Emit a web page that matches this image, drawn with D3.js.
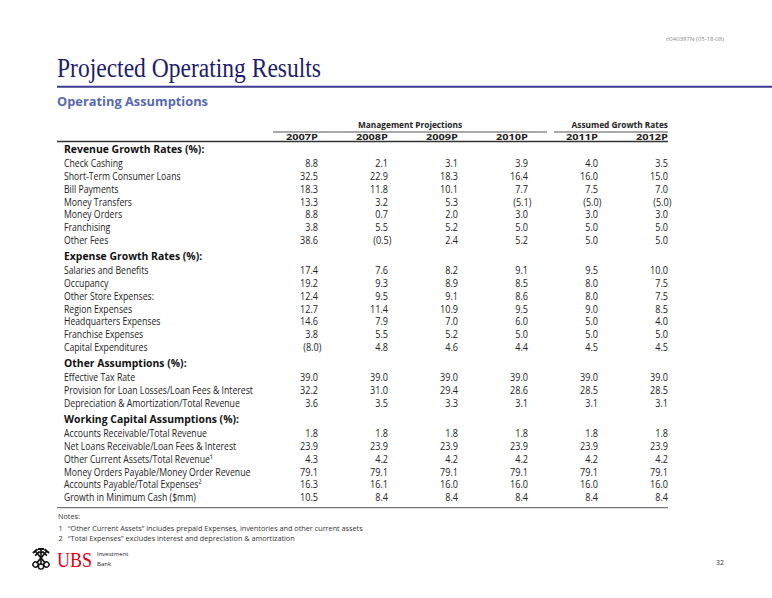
<!DOCTYPE html>
<html><head><meta charset="utf-8">
<script src="https://cdn.jsdelivr.net/npm/d3@7"></script>
<style>body{margin:0;background:#fff}svg{display:block}</style>
</head><body>
<script>
// ---------- DATA ----------
const years = ["2007P","2008P","2009P","2010P","2011P","2012P"];
const groupNames = ["Management Projections","Assumed Growth Rates"];
const groupSpans = [["2007P","2010P"],["2011P","2012P"]];

const sectionTitles = ["Revenue Growth Rates (%):","Expense Growth Rates (%):","Other Assumptions (%):","Working Capital Assumptions (%):"];

const revenueLabels = ["Check Cashing","Short-Term Consumer Loans","Bill Payments","Money Transfers","Money Orders","Franchising","Other Fees"];
const revenueValues = [
  [8.8,2.1,3.1,3.9,4.0,3.5],
  [32.5,22.9,18.3,16.4,16.0,15.0],
  [18.3,11.8,10.1,7.7,7.5,7.0],
  [13.3,3.2,5.3,-5.1,-5.0,-5.0],
  [8.8,0.7,2.0,3.0,3.0,3.0],
  [3.8,5.5,5.2,5.0,5.0,5.0],
  [38.6,-0.5,2.4,5.2,5.0,5.0]
];
const expenseLabels = ["Salaries and Benefits","Occupancy","Other Store Expenses:","Region Expenses","Headquarters Expenses","Franchise Expenses","Capital Expenditures"];
const expenseValues = [
  [17.4,7.6,8.2,9.1,9.5,10.0],
  [19.2,9.3,8.9,8.5,8.0,7.5],
  [12.4,9.5,9.1,8.6,8.0,7.5],
  [12.7,11.4,10.9,9.5,9.0,8.5],
  [14.6,7.9,7.0,6.0,5.0,4.0],
  [3.8,5.5,5.2,5.0,5.0,5.0],
  [-8.0,4.8,4.6,4.4,4.5,4.5]
];
const otherLabels = ["Effective Tax Rate","Provision for Loan Losses/Loan Fees & Interest","Depreciation & Amortization/Total Revenue"];
const otherValues = [
  [39.0,39.0,39.0,39.0,39.0,39.0],
  [32.2,31.0,29.4,28.6,28.5,28.5],
  [3.6,3.5,3.3,3.1,3.1,3.1]
];
const wcLabels = ["Accounts Receivable/Total Revenue","Net Loans Receivable/Loan Fees & Interest","Other Current Assets/Total Revenue\u00B9","Money Orders Payable/Money Order Revenue","Accounts Payable/Total Expenses\u00B2","Growth in Minimum Cash ($mm)"];
const wcValues = [
  [1.8,1.8,1.8,1.8,1.8,1.8],
  [23.9,23.9,23.9,23.9,23.9,23.9],
  [4.3,4.2,4.2,4.2,4.2,4.2],
  [79.1,79.1,79.1,79.1,79.1,79.1],
  [16.3,16.1,16.0,16.0,16.0,16.0],
  [10.5,8.4,8.4,8.4,8.4,8.4]
];
const notes = [
  ["1","\u201COther Current Assets\u201D includes prepaid Expenses, inventories and other current assets"],
  ["2","\u201CTotal Expenses\u201D excludes interest and depreciation & amortization"]
];
const titleText = "Projected Operating Results";
const subtitleText = "Operating Assumptions";
const docCode = "6040397N (05-18-08)";
const pageNumber = "32";

// ---------- LAYOUT ----------
const W = 772, H = 598;
const svg = d3.select("body").append("svg").attr("width", W).attr("height", H);
const SANS = "'Open Sans','Noto Sans',sans-serif";
const SERIF = "'Liberation Serif','DejaVu Serif',serif";
const ink = "#222";

function measure(str, size, weight, family) {
  const t = svg.append("text").attr("font-family", family).attr("font-size", size)
    .attr("font-weight", weight).text(str);
  const w = t.node().getComputedTextLength();
  t.remove();
  return w;
}
const kLabel = 189 / measure("Provision for Loan Losses/Loan Fees & Interest", 10.4, "normal", SANS);
const kBold = 175 / measure("Working Capital Assumptions (%):", 10.6, "bold", SANS);
const kNum = 18 / measure("32.5", 10.4, "normal", SANS);
const kHead = 32 / measure("2007P", 9.0, "bold", SANS);
const kGroup = 104 / measure("Management Projections", 9.2, "bold", SANS);

// title
svg.append("text").attr("x", 57).attr("y", 77).attr("font-family", SERIF).attr("font-size", 28)
  .attr("fill", "#1d1d6a").attr("textLength", 264).attr("lengthAdjust", "spacingAndGlyphs").text(titleText);
svg.append("line").attr("x1", 57).attr("x2", W).attr("y1", 86.8).attr("y2", 86.8)
  .attr("stroke", "#3b3b8e").attr("stroke-width", 2);
svg.append("text").attr("x", 57).attr("y", 106).attr("font-family", SANS).attr("font-size", 12.2)
  .attr("font-weight", "bold").attr("fill", "#5769b0").attr("textLength", 151)
  .attr("lengthAdjust", "spacingAndGlyphs").text(subtitleText);
svg.append("text").attr("x", 724).attr("y", 41).attr("text-anchor", "end").attr("font-family", SANS)
  .attr("font-size", 6).attr("fill", "#8a8a8a").text(docCode);

// columns
const x = d3.scalePoint().domain(years).range([318, 668]);
const labelX = 64, tableLeft = 57, tableRight = x(years[years.length - 1]);

// group headers
const gHead = svg.append("g");
groupNames.forEach((name, i) => {
  const [a, b] = groupSpans[i];
  const x0 = i === 0 ? x(a) - 45 : x(a) - 44;
  const x1 = i === 0 ? x(b) + 19 : x(b);
  gHead.append("line").attr("x1", x0).attr("x2", x1).attr("y1", 132).attr("y2", 132)
    .attr("stroke", "#555").attr("stroke-width", 1.2);
  const cx = i === 0 ? (x0 + x1) / 2 : x1;
  gHead.append("text").attr("transform", `translate(${cx},128) scale(${kGroup},1)`)
    .attr("text-anchor", i === 0 ? "middle" : "end").attr("font-family", SANS).attr("font-size", 9.2)
    .attr("font-weight", "bold").attr("fill", ink).text(name);
});
years.forEach(yr => {
  gHead.append("text").attr("transform", `translate(${x(yr)},139.6) scale(${kHead},1)`)
    .attr("text-anchor", "end").attr("font-family", SANS).attr("font-size", 9.0)
    .attr("font-weight", "bold").attr("fill", ink).text(yr);
});
gHead.append("line").attr("x1", tableLeft).attr("x2", tableRight).attr("y1", 141.6).attr("y2", 141.6)
  .attr("stroke", "#333").attr("stroke-width", 1.5);

// rows
const sections = [
  [revenueLabels, revenueValues],
  [expenseLabels, expenseValues],
  [otherLabels, otherValues],
  [wcLabels, wcValues]
];
const rowStep = 12.75, headToRow = 15, rowToHead = 15.5;
let cy = 148.8;
const items = [];
sections.forEach(([labels, values], si) => {
  if (si > 0) cy += rowToHead;
  items.push({ type: "head", text: sectionTitles[si], y: cy });
  labels.forEach((lab, ri) => {
    cy += ri === 0 ? headToRow : rowStep;
    items.push({ type: "row", text: lab, vals: values[ri], y: cy });
  });
});
const lastY = cy;

const fmt = d3.format(".1f");
const gRows = svg.append("g");
items.forEach(it => {
  if (it.type === "head") {
    gRows.append("text").attr("transform", `translate(${labelX},${it.y + 3.8}) scale(${kBold},1)`)
      .attr("font-family", SANS).attr("font-size", 10.6).attr("font-weight", "bold")
      .attr("fill", "#111").text(it.text);
  } else {
    gRows.append("text").attr("transform", `translate(${labelX},${it.y + 3.6}) scale(${kLabel},1)`)
      .attr("font-family", SANS).attr("font-size", 10.4).attr("fill", ink).text(it.text);
    it.vals.forEach((v, ci) => {
      const neg = v < 0;
      const s = neg ? "(" + fmt(-v) + ")" : fmt(v);
      const xr = x(years[ci]) + (neg ? 3.4 : 0);
      gRows.append("text").attr("transform", `translate(${xr},${it.y + 3.6}) scale(${kNum},1)`)
        .attr("text-anchor", "end").attr("font-family", SANS).attr("font-size", 10.4)
        .attr("fill", ink).text(s);
    });
  }
});
gRows.append("line").attr("x1", tableLeft).attr("x2", tableRight).attr("y1", lastY + 10).attr("y2", lastY + 10)
  .attr("stroke", "#777").attr("stroke-width", 1.2);

// notes
const gNotes = svg.append("g").attr("font-family", SANS).attr("fill", "#333");
const kNote = 295 / measure(notes[0][1], 7.8, "normal", SANS);
gNotes.append("text").attr("transform", `translate(58,${lastY + 21}) scale(${kNote},1)`)
  .attr("font-size", 7.8).text("Notes:");
notes.forEach((n, i) => {
  const yy = lastY + 33 + i * 10.8;
  gNotes.append("text").attr("transform", `translate(58.5,${yy}) scale(${kNote},1)`).attr("font-size", 7.8).text(n[0]);
  gNotes.append("text").attr("transform", `translate(68,${yy}) scale(${kNote},1)`).attr("font-size", 7.8).text(n[1]);
});

// logo
const logo = svg.append("g").attr("transform", "translate(41,558)").attr("fill", "#111").attr("stroke", "#111");
[-40, 0, 40].forEach(a => {
  const k = logo.append("g").attr("transform", `rotate(${a})`);
  k.append("line").attr("x1", 0).attr("x2", 0).attr("y1", -9).attr("y2", 7).attr("stroke-width", 1.6);
  k.append("circle").attr("cx", 0).attr("cy", 8.5).attr("r", 2.6).attr("fill", "none").attr("stroke-width", 1.4);
  k.append("rect").attr("x", -3).attr("y", -10).attr("width", 6).attr("height", 2).attr("stroke", "none");
  k.append("rect").attr("x", -3).attr("y", -6.5).attr("width", 6).attr("height", 1.6).attr("stroke", "none");
});
const ubsSize = 18;
const kUbs = 35 / measure("UBS", ubsSize, "normal", SERIF);
svg.append("text").attr("transform", `translate(57,567) scale(${kUbs},${21 / ubsSize})`)
  .attr("font-family", SERIF).attr("font-size", ubsSize).attr("fill", "#e3000f").text("UBS");
svg.append("text").attr("x", 97).attr("y", 555.5).attr("font-family", SANS).attr("font-size", 6)
  .attr("fill", "#222").text("Investment");
svg.append("text").attr("x", 97).attr("y", 565.5).attr("font-family", SANS).attr("font-size", 6)
  .attr("fill", "#222").text("Bank");
svg.append("text").attr("x", 724).attr("y", 565).attr("text-anchor", "end").attr("font-family", SANS)
  .attr("font-size", 7).attr("fill", "#333").text(pageNumber);
</script>
</body></html>
